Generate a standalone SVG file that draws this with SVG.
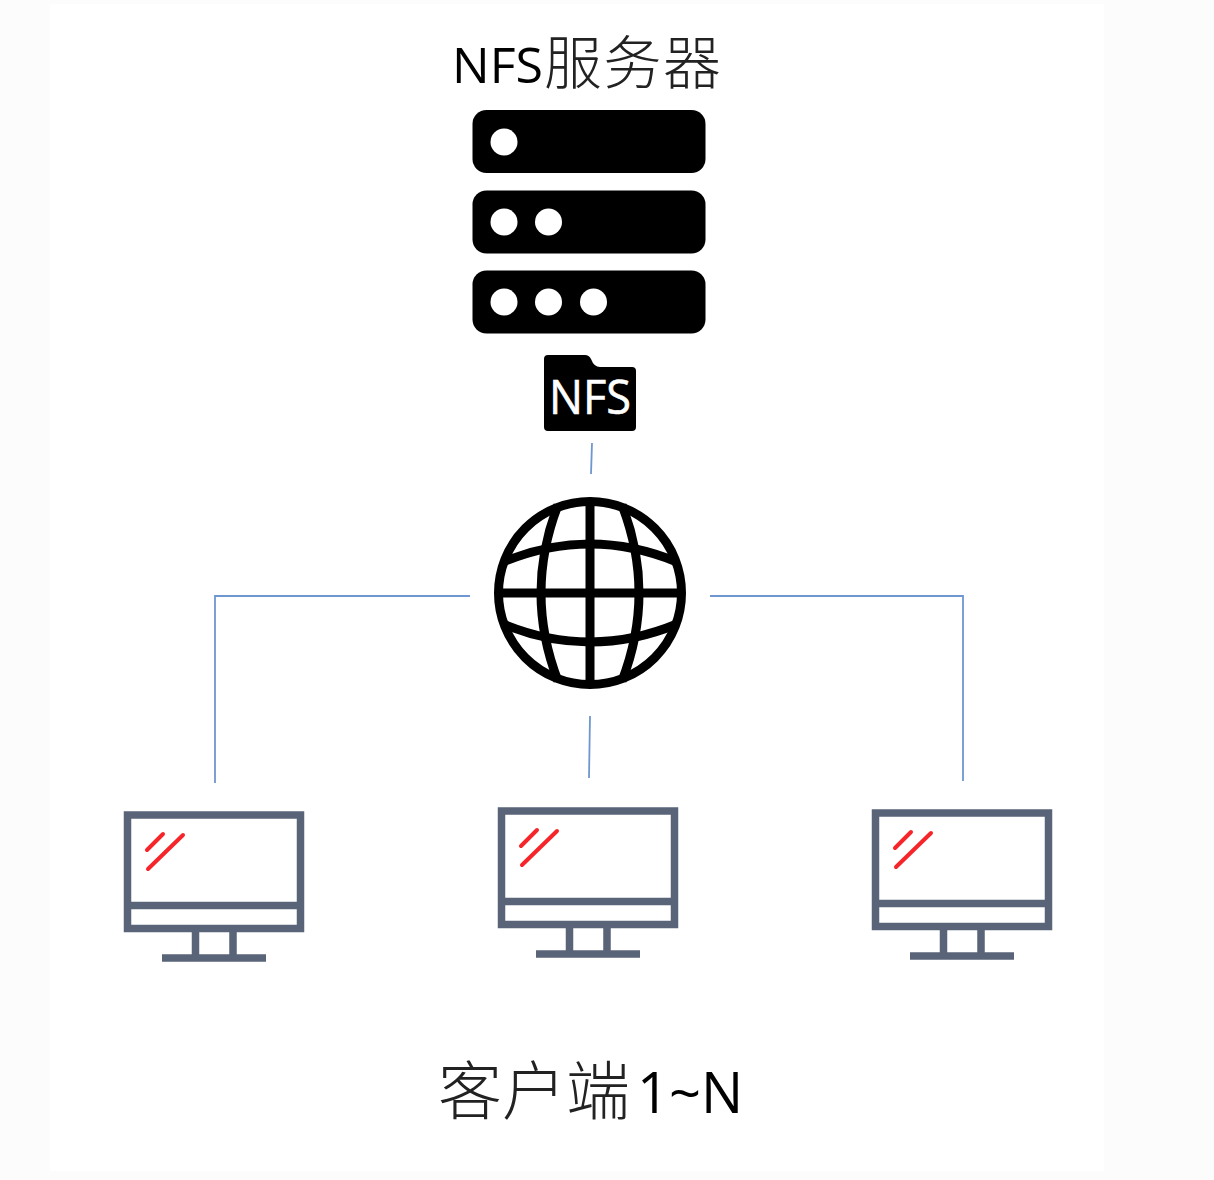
<svg xmlns="http://www.w3.org/2000/svg" width="1214" height="1180" viewBox="0 0 1214 1180">
<style>
.lat{font-family:"Open Sans","Noto Sans",sans-serif;fill:#000}
.cjk{font-family:"Noto Sans CJK SC",sans-serif;fill:#222;font-weight:300}
.conn{fill:none;stroke:#6f97cf;stroke-width:1.8}
.globe{fill:none;stroke:#000;stroke-width:9}
.bar{fill:#000}
.dot{fill:#fff}
.pc{fill:none;stroke:#5a6478;stroke-width:7.5}
.glass{fill:none;stroke:#f5252a;stroke-width:4;stroke-linecap:round}
</style>
<defs>
<g id="pc">
<rect class="pc" x="127.500" y="815" width="173" height="113.500"/>
<path class="pc" d="M127.500 905.500H300.500M195.500 932V955M233 932V955"/>
<path class="pc" stroke-width="8" d="M162 958H266"/>
<path class="glass" d="M147 850L163 834M148 869L183 835"/>
</g>
</defs>
<rect width="1214" height="1180" fill="#fcfcfc"/>
<rect x="50" y="4" width="1054" height="1167" fill="#fff"/>
<g id="connectors">
<path class="conn" d="M592 443L591 474"/>
<path class="conn" d="M470 596H215V783"/>
<path class="conn" d="M710 596H963V781"/>
<path class="conn" d="M590 716L589 778"/>
</g>
<g id="server-label">
<text x="452" y="83" class="lat" font-size="50">NFS</text>
<text x="544" y="84" class="cjk" font-size="58" letter-spacing="1.500">服务器</text>
</g>
<g id="server">
<rect class="bar" x="472.500" y="110" width="233" height="63" rx="14"/>
<rect class="bar" x="472.500" y="190.500" width="233" height="63" rx="14"/>
<rect class="bar" x="472.500" y="270.500" width="233" height="63" rx="14"/>
<circle class="dot" cx="504" cy="142" r="13.500"/>
<circle class="dot" cx="504" cy="222" r="13.500"/>
<circle class="dot" cx="548.500" cy="222" r="13.500"/>
<circle class="dot" cx="504" cy="302" r="13.500"/>
<circle class="dot" cx="548.500" cy="302" r="13.500"/>
<circle class="dot" cx="593.500" cy="302" r="13.500"/>
</g>
<g id="nfs-folder">
<path class="bar" d="M548 355H585Q589 355 591 359Q594 367 600 367H632Q636 367 636 371V427Q636 431 632 431H548Q544 431 544 427V359Q544 355 548 355Z"/>
<text x="549" y="414" font-family="'Open Sans','Noto Sans',sans-serif" font-size="47" fill="#fff" stroke="#fff" stroke-width="0.600" textLength="82" lengthAdjust="spacingAndGlyphs">NFS</text>
</g>
<g id="network">
<circle class="globe" cx="590" cy="593" r="91.500"/>
<path class="globe" d="M499 593H681M590 501V685"/>
<path class="globe" d="M558 505Q524 593 558 681M622 505Q656 593 622 681"/>
<path class="globe" d="M503 562Q590 526 677 562M503 624Q590 660 677 624"/>
</g>
<g id="client-1"><use href="#pc"/></g>
<g id="client-2"><use href="#pc" x="374" y="-4"/></g>
<g id="client-3"><use href="#pc" x="748" y="-2"/></g>
<g id="client-label">
<text x="438" y="1114" class="cjk" font-size="64">客户端</text>
<text x="637" y="1113" class="lat" font-size="56">1~N</text>
</g>
</svg>
